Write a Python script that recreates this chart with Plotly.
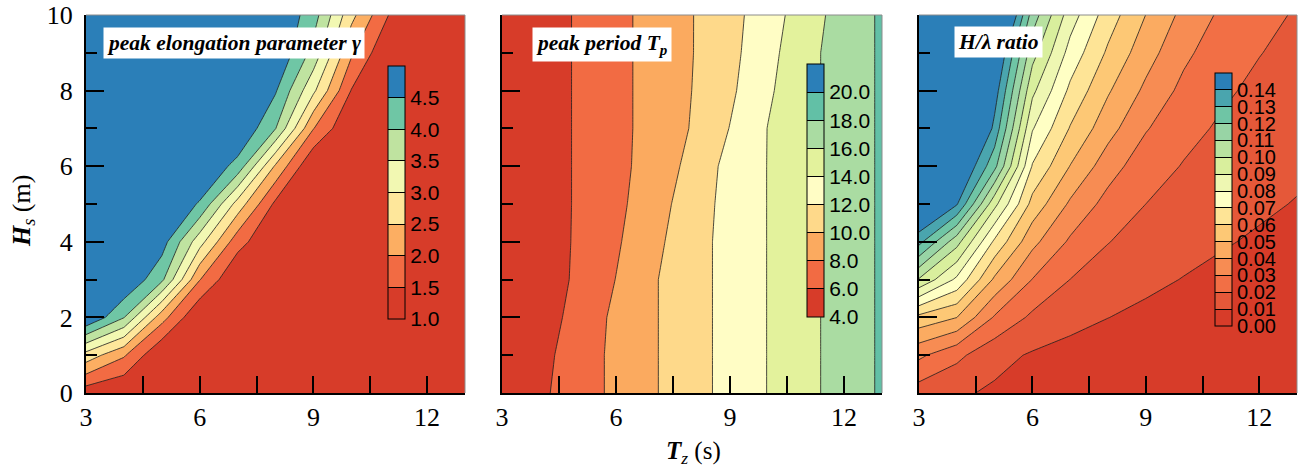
import plotly.graph_objects as go

# ---------------- data ----------------
TZ = [3, 4, 5, 6, 7, 8, 9, 10, 11, 12, 13]          # zero-crossing period Tz (s)
HS = [0, 1, 2, 3, 4, 5, 6, 7, 8, 9, 10]              # significant wave height Hs (m)

GAMMA = [  # peak elongation parameter, rows = HS, cols = TZ
    [1.20, 1.00, 1.00, 1.00, 1.00, 1.00, 1.00, 1.00, 1.00, 1.00, 1.00],
    [2.80, 2.06, 1.00, 1.00, 1.00, 1.00, 1.00, 1.00, 1.00, 1.00, 1.00],
    [5.00, 4.02, 2.20, 1.00, 1.00, 1.00, 1.00, 1.00, 1.00, 1.00, 1.00],
    [5.00, 5.00, 4.11, 2.02, 1.00, 1.00, 1.00, 1.00, 1.00, 1.00, 1.00],
    [5.00, 5.00, 4.73, 3.20, 1.70, 1.00, 1.00, 1.00, 1.00, 1.00, 1.00],
    [5.00, 5.00, 5.00, 4.45, 2.80, 1.39, 1.00, 1.00, 1.00, 1.00, 1.00],
    [5.00, 5.00, 5.00, 5.00, 4.33, 2.43, 1.00, 1.00, 1.00, 1.00, 1.00],
    [5.00, 5.00, 5.00, 5.00, 5.00, 4.02, 2.02, 1.00, 1.00, 1.00, 1.00],
    [5.00, 5.00, 5.00, 5.00, 5.00, 4.55, 3.10, 1.48, 1.00, 1.00, 1.00],
    [5.00, 5.00, 5.00, 5.00, 5.00, 5.00, 3.83, 2.08, 1.00, 1.00, 1.00],
    [5.00, 5.00, 5.00, 5.00, 5.00, 5.00, 4.23, 2.65, 1.48, 1.00, 1.00],
]

TP = [  # peak period Tp (s)
    [4.17, 5.62, 7.03, 8.43, 9.84, 11.24, 12.65, 14.05, 15.46, 16.86, 18.27],
    [3.91, 5.35, 7.03, 8.43, 9.84, 11.24, 12.65, 14.05, 15.46, 16.86, 18.27],
    [3.73, 5.06, 6.65, 8.43, 9.84, 11.24, 12.65, 14.05, 15.46, 16.86, 18.27],
    [3.73, 4.97, 6.31, 8.04, 9.84, 11.24, 12.65, 14.05, 15.46, 16.86, 18.27],
    [3.73, 4.97, 6.24, 7.74, 9.50, 11.24, 12.65, 14.05, 15.46, 16.86, 18.27],
    [3.73, 4.97, 6.21, 7.52, 9.13, 11.02, 12.65, 14.05, 15.46, 16.86, 18.27],
    [3.73, 4.97, 6.21, 7.45, 8.80, 10.56, 12.65, 14.05, 15.46, 16.86, 18.27],
    [3.73, 4.97, 6.21, 7.45, 8.69, 10.12, 12.06, 14.05, 15.46, 16.86, 18.27],
    [3.73, 4.97, 6.21, 7.45, 8.69, 10.01, 11.64, 13.71, 15.46, 16.86, 18.27],
    [3.73, 4.97, 6.21, 7.45, 8.69, 9.94, 11.43, 13.37, 15.46, 16.86, 18.27],
    [3.73, 4.97, 6.21, 7.45, 8.69, 9.94, 11.33, 13.10, 15.08, 16.86, 18.27],
]

STEEP = [  # H / lambda ratio
    [0.015, 0.0115, 0.0085, 0.0065, 0.0050, 0.0040, 0.0030, 0.0025, 0.0020, 0.0015, 0.0010],
    [0.032, 0.0224, 0.0130, 0.0090, 0.0066, 0.0051, 0.0040, 0.0032, 0.0027, 0.0023, 0.0019],
    [0.057, 0.0501, 0.0289, 0.0180, 0.0132, 0.0101, 0.0080, 0.0065, 0.0054, 0.0045, 0.0038],
    [0.099, 0.0779, 0.0482, 0.0297, 0.0199, 0.0152, 0.0120, 0.0097, 0.0080, 0.0068, 0.0058],
    [0.133, 0.1038, 0.0680, 0.0428, 0.0284, 0.0203, 0.0160, 0.0130, 0.0107, 0.0090, 0.0077],
    [0.160, 0.1410, 0.0930, 0.0566, 0.0384, 0.0264, 0.0200, 0.0162, 0.0134, 0.0113, 0.0096],
    [0.190, 0.1557, 0.1230, 0.0692, 0.0497, 0.0345, 0.0240, 0.0195, 0.0161, 0.0135, 0.0115],
    [0.220, 0.1817, 0.1369, 0.0808, 0.0593, 0.0438, 0.0308, 0.0227, 0.0188, 0.0158, 0.0134],
    [0.250, 0.2076, 0.1453, 0.0923, 0.0678, 0.0511, 0.0379, 0.0273, 0.0215, 0.0180, 0.0154],
    [0.280, 0.2336, 0.1540, 0.1038, 0.0763, 0.0584, 0.0442, 0.0323, 0.0241, 0.0203, 0.0173],
    [0.310, 0.2595, 0.1740, 0.1154, 0.0848, 0.0649, 0.0499, 0.0373, 0.0282, 0.0225, 0.0192],
]

GAMMA_TICKS = [1.0, 1.5, 2.0, 2.5, 3.0, 3.5, 4.0, 4.5]
TP_TICKS = [4.0, 6.0, 8.0, 10.0, 12.0, 14.0, 16.0, 18.0, 20.0]
STEEP_TICKS = [0.00, 0.01, 0.02, 0.03, 0.04, 0.05, 0.06, 0.07,
               0.08, 0.09, 0.10, 0.11, 0.12, 0.13, 0.14]
X_LABELS = [3, 6, 9, 12]
X_MINOR = [4.5, 7.5, 10.5]

TITLES = ["<b><i>peak elongation parameter γ</i></b>",
          "<b><i>peak period T<sub>p</sub></i></b>",
          "<b><i>H/λ ratio</i></b>"]

# ---------------- styling ----------------
C_GAMMA = ['#d73c29', '#f26b43', '#fcae62', '#fee79b', '#f2f8b2', '#bfe3a0', '#6fc6a5', '#2b7fb8']
C_TP = ['#d73c29', '#f26b43', '#fbaa5f', '#fed98a', '#fffdc5', '#e3f29c', '#aadca2', '#62c0a6', '#2b7fb8']
C_ST = ['#d73c29', '#e55839', '#f26f45', '#f78c53', '#fbab61', '#fdc875', '#fee496', '#ffffc4',
        '#eef7b2', '#d9ef9d', '#b9e2a0', '#98d4a5', '#6fc5a5', '#4aa5ae', '#2b7fb8']

W, H = 1307, 470
PANEL_X = [(86, 465), (502, 882), (919, 1297)]
PANEL_Y = (15, 393)
CB = [  # left px, top px, bottom px, label size
    (388, 66, 319, 21),
    (807, 64, 317, 21),
    (1215, 73, 326, 20),
]
TITLE_POS = [(103, 42.5), (532, 44), (954, 42)]   # left px, centre px

SERIF = "Liberation Serif, Times New Roman, serif"
SANS = "Liberation Sans, Arial, sans-serif"


def band_scale(colors):
    n = len(colors)
    return [[k / (n - 1), c] for k, c in enumerate(colors)]


def step_scale(colors):
    n = len(colors)
    out = []
    for k, c in enumerate(colors):
        out.append([k / n, c])
        out.append([(k + 1) / n, c])
    return out


fig = go.Figure()

datasets = [
    (GAMMA, C_GAMMA, GAMMA_TICKS, 0.5, "{:.1f}"),
    (TP, C_TP, TP_TICKS, 2.0, "{:.1f}"),
    (STEEP, C_ST, STEEP_TICKS, 0.01, "{:.2f}"),
]

for i, (z, cols, ticks, step, fmt) in enumerate(datasets):
    ax = "" if i == 0 else str(i + 1)
    fig.add_trace(go.Contour(
        x=TZ, y=HS, z=z, xaxis="x" + ax, yaxis="y" + ax,
        autocontour=False,
        contours=dict(start=ticks[1], end=ticks[-1] + step * 1e-3, size=step,
                      coloring="fill", showlines=True),
        colorscale=band_scale(cols),
        line=dict(color="#1e1e1e", width=0.8, smoothing=0),
        showscale=False, hoverinfo="skip",
    ))
    lo, hi = ticks[0], ticks[-1] + step
    cbx, cbt, cbb, fs = CB[i]
    # colour-key carrier: lies outside the visible axis range, only its colour bar shows
    fig.add_trace(go.Heatmap(
        x=[100, 101], y=[100, 101], z=[[lo, hi], [lo, hi]],
        xaxis="x" + ax, yaxis="y" + ax,
        zmin=lo, zmax=hi, zauto=False, colorscale=step_scale(cols),
        hoverinfo="skip", showscale=True,
        colorbar=dict(
            x=cbx / W, xanchor="left", xpad=0, xref="paper",
            y=1 - (cbt + cbb) / 2 / H, yanchor="middle", ypad=0, yref="paper",
            lenmode="pixels", len=cbb - cbt, thicknessmode="pixels", thickness=17,
            outlinewidth=1, outlinecolor="black",
            tickmode="array", tickvals=ticks, ticktext=[fmt.format(t) for t in ticks],
            ticks="inside", ticklen=17, tickwidth=1, tickcolor="black",
            tickfont=dict(family=SANS, size=fs, color="black"),
        ),
    ))

layout = dict(width=W, height=H, margin=dict(l=0, r=0, t=0, b=0, autoexpand=False),
              paper_bgcolor="white", plot_bgcolor="white", showlegend=False)

for i in range(3):
    ax = "" if i == 0 else str(i + 1)
    x0, x1 = PANEL_X[i]
    layout["xaxis" + ax] = dict(
        domain=[x0 / W, x1 / W], anchor="y" + ax, range=[3, 13], autorange=False,
        automargin=False,
        tickmode="array", tickvals=X_LABELS, ticktext=[str(v) for v in X_LABELS],
        ticks="inside", ticklen=17, tickwidth=1.5, tickcolor="black",
        minor=dict(tickmode="array", tickvals=X_MINOR, ticks="inside",
                   ticklen=17, tickwidth=1.5, tickcolor="black"),
        showline=True, linecolor="black", linewidth=2, mirror=False,
        showgrid=False, zeroline=False, ticklabelstandoff=0,
        tickfont=dict(family=SERIF, size=26, color="black"),
    )
    layout["yaxis" + ax] = dict(
        domain=[1 - PANEL_Y[1] / H, 1 - PANEL_Y[0] / H], anchor="x" + ax,
        range=[0, 10], autorange=False, automargin=False,
        tickmode="linear", tick0=0, dtick=2,
        ticks="inside", ticklen=18, tickwidth=1.5, tickcolor="black",
        minor=dict(dtick=1, tick0=0, ticks="inside", ticklen=11, tickwidth=1.5,
                   tickcolor="black"),
        showline=True, linecolor="black", linewidth=2, mirror=False,
        showgrid=False, zeroline=False, showticklabels=(i == 0),
        ticklabelstandoff=6,
        tickfont=dict(family=SERIF, size=26, color="black"),
    )

fig.update_layout(**layout)

shapes = []
annotations = []
for i in range(3):
    ax = "" if i == 0 else str(i + 1)
    shapes.append(dict(type="line", xref="x" + ax + " domain", yref="y" + ax + " domain",
                       x0=0, x1=1, y0=1, y1=1, line=dict(color="#8c8c8c", width=1)))
    shapes.append(dict(type="line", xref="x" + ax + " domain", yref="y" + ax + " domain",
                       x0=1, x1=1, y0=0, y1=1, line=dict(color="#8c8c8c", width=1)))
    tx, ty = TITLE_POS[i]
    annotations.append(dict(
        text=TITLES[i], xref="paper", yref="paper", x=tx / W, y=1 - ty / H,
        xanchor="left", yanchor="middle", showarrow=False, bgcolor="white",
        borderpad=3, font=dict(family=SERIF, size=21.5, color="black"),
    ))

annotations.append(dict(
    text="<b><i>H</i></b><i><sub>s</sub></i> (m)", xref="paper", yref="paper",
    x=23 / W, y=1 - 211 / H, textangle=-90, showarrow=False,
    xanchor="center", yanchor="middle",
    font=dict(family=SERIF, size=26, color="black"),
))
annotations.append(dict(
    text="<b><i>T</i></b><i><sub>z</sub></i> (s)", xref="paper", yref="paper",
    x=693 / W, y=1 - 452 / H, showarrow=False,
    xanchor="center", yanchor="middle",
    font=dict(family=SERIF, size=25, color="black"),
))

fig.update_layout(shapes=shapes, annotations=annotations)

fig.write_html("out.html")
